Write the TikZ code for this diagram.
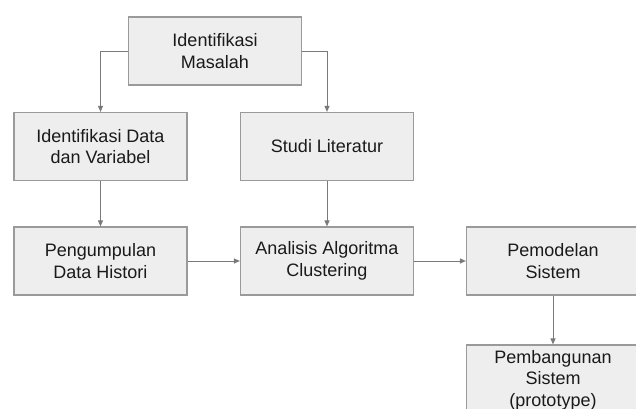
\documentclass[tikz,border=0pt]{standalone}
\usepackage{fontspec}
\setmainfont{Liberation Sans}
\usetikzlibrary{arrows.meta}
\definecolor{boxfill}{HTML}{EEEEEE}
\definecolor{boxline}{HTML}{9A9A9A}
\definecolor{arrline}{HTML}{7A7A7A}
\definecolor{txt}{HTML}{1A1A1A}
\tikzset{
  stepbox/.style={draw=boxline, fill=boxfill, line width=1.2pt, minimum width=173pt,
    minimum height=68pt, inner sep=2pt, align=center, text=txt,
    font=\fontsize{18pt}{21.6pt}\selectfont},
  conn/.style={draw=arrline, line width=1pt, -{Triangle[length=6pt,width=5pt]}}
}
\begin{document}
\begin{tikzpicture}[x=1pt,y=-1pt]
\useasboundingbox (0,0) rectangle (636,408);
\clip (0,0) rectangle (636,408);
\node[stepbox] (b1) at (215,51) {Identifikasi\\Masalah};
\node[stepbox] (b2) at (100.5,146.5) {Identifikasi Data\\dan Variabel};
\node[stepbox] (b3) at (327,146.5) {Studi Literatur};
\node[stepbox] (b4) at (100.5,261) {Pengumpulan\\Data Histori};
\node[stepbox] (b5) at (327,261) {Analisis Algoritma\\Clustering};
\node[stepbox] (b6) at (553,261) {Pemodelan\\Sistem};
\node[stepbox, minimum height=70pt] (b7) at (553,380) {Pembangunan\\Sistem\\(prototype)};
\draw[conn] (b1.west) -| (b2.north);
\draw[conn] (b1.east) -| (b3.north);
\draw[conn] (b2) -- (b4);
\draw[conn] (b3) -- (b5);
\draw[conn] (b4) -- (b5);
\draw[conn] (b5) -- (b6);
\draw[conn] (b6) -- (b7);
\end{tikzpicture}
\end{document}
